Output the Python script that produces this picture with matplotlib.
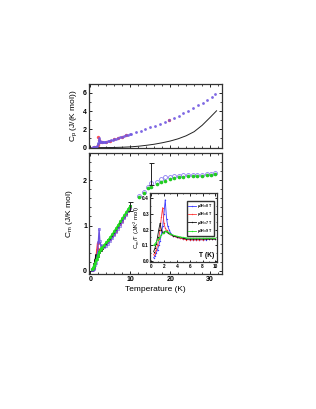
import matplotlib
matplotlib.use("Agg")
import matplotlib.pyplot as plt
from matplotlib.ticker import MultipleLocator

plt.rcParams['font.family'] = ['Liberation Sans', 'DejaVu Sans']
plt.rcParams['font.weight'] = 'bold'
plt.rcParams['axes.linewidth'] = 0.9
plt.rcParams['mathtext.default'] = 'regular'

## DATA ##

# top panel: total Cp
T_cp = [0.3, 0.5, 0.7, 0.9, 1.1, 1.3, 1.5, 1.7, 1.9, 2.0, 2.1, 2.2, 2.3, 2.4, 2.5, 2.7, 2.9,
        3.1, 3.4, 3.7, 4.0, 4.4, 4.8, 5.2, 5.6, 6.0, 6.5, 7.0, 7.5, 8.0, 8.5, 9.0, 9.5, 10.0,
        10.3, 11.5, 12.7, 13.8, 15.0, 16.2, 17.4, 18.6, 19.8, 21.0, 22.1, 23.3, 24.5, 25.7,
        26.9, 28.1, 29.2, 30.4, 31.2]
CP = [0.01, 0.01, 0.02, 0.03, 0.05, 0.08, 0.12, 0.2, 0.35, 0.5, 0.75, 1.0, 0.8, 0.68, 0.62,
      0.6, 0.6, 0.6, 0.61, 0.63, 0.66, 0.7, 0.75, 0.8, 0.85, 0.9, 0.97, 1.04, 1.11, 1.18,
      1.26, 1.33, 1.41, 1.48, 1.5, 1.68, 1.86, 2.04, 2.22, 2.4, 2.6, 2.8, 3.0, 3.25, 3.5,
      3.75, 4.02, 4.32, 4.63, 4.95, 5.27, 5.6, 5.93]
T_cp_red = [0.5, 1.0, 1.5, 1.8, 2.0, 2.2, 2.5, 3.0, 4.0, 5.0, 6.0, 7.0, 8.0, 9.0, 19.8]
CP_red = [0.01, 0.04, 0.12, 0.3, 1.2, 0.8, 0.62, 0.6, 0.66, 0.75, 0.9, 1.04, 1.18, 1.33, 3.02]

# lattice contribution (black line)
T_lat = [0, 2, 4, 6, 8, 10, 12, 14, 16, 18, 20, 22, 24, 26, 28, 30, 31.6]
C_lat = [0, 0.001, 0.005, 0.015, 0.04, 0.08, 0.15, 0.25, 0.37, 0.53, 0.72, 0.97, 1.3,
         1.75, 2.45, 3.32, 4.04]

# bottom panel: magnetic Cm
T_lo = [0.4, 0.6, 0.8, 1.0, 1.2, 1.4, 1.6, 1.8, 2.0, 2.2, 2.4, 2.6, 2.8, 3.0, 3.4, 4.0,
        4.5, 5.0, 5.5, 6.0, 6.5, 7.0, 7.5, 8.0, 8.5, 9.0, 9.5, 10.0]
CM_0T = [0.01, 0.02, 0.04, 0.07, 0.12, 0.18, 0.27, 0.4, 0.63, 0.93, 0.65, 0.58, 0.55, 0.53,
         0.52, 0.55, 0.6, 0.66, 0.72, 0.79, 0.86, 0.93, 1.0, 1.08, 1.16, 1.24, 1.31, 1.38]
CM_6T = [0.015, 0.03, 0.06, 0.1, 0.17, 0.28, 0.45, 0.61, 0.48, 0.46, 0.47, 0.48, 0.49, 0.51,
         0.55, 0.6, 0.65, 0.71, 0.76, 0.82, 0.89, 0.96, 1.03, 1.1, 1.18, 1.26, 1.33, 1.4]
CM_7T = [0.02, 0.05, 0.09, 0.15, 0.24, 0.34, 0.32, 0.33, 0.37, 0.42, 0.45, 0.47, 0.49, 0.51,
         0.55, 0.62, 0.67, 0.73, 0.79, 0.86, 0.93, 1.0, 1.07, 1.14, 1.21, 1.28, 1.35, 1.43]
CM_9T = [0.04, 0.07, 0.1, 0.14, 0.18, 0.23, 0.27, 0.32, 0.36, 0.41, 0.45, 0.48, 0.5, 0.52,
         0.57, 0.63, 0.69, 0.75, 0.81, 0.88, 0.95, 1.02, 1.09, 1.16, 1.23, 1.3, 1.37, 1.44]

T_hi = [12.2, 13.4, 14.5, 15.3, 16.6, 17.7, 18.8, 19.9, 21.0, 22.2, 23.3, 24.5, 25.6,
        26.8, 27.9, 29.1, 30.2, 31.3]
CM_hi_0T = [1.64, 1.74, 1.85, 1.93, 1.97, 2.02, 2.06, 2.08, 2.1, 2.1, 2.11, 2.12, 2.12,
            2.12, 2.12, 2.13, 2.14, 2.15]
CM_hi_9T = [1.62, 1.72, 1.82, 1.86, 1.91, 1.95, 1.99, 2.03, 2.05, 2.07, 2.08, 2.09, 2.1,
            2.1, 2.1, 2.11, 2.12, 2.13]

# error bars
T_err = [10.0, 15.2]
CM_err = [1.42, 1.9]
ERR_up = [0.1, 0.47]

# inset: Cm/T
CT_0T = [0.02, 0.03, 0.05, 0.07, 0.1, 0.13, 0.17, 0.22, 0.3, 0.39, 0.27, 0.22, 0.2, 0.18,
         0.16, 0.15, 0.145, 0.14, 0.14, 0.135, 0.135, 0.135, 0.135, 0.135, 0.135, 0.14, 0.14, 0.14]
CT_6T = [0.04, 0.05, 0.07, 0.1, 0.14, 0.2, 0.28, 0.34, 0.24, 0.21, 0.195, 0.185, 0.175, 0.17,
         0.16, 0.15, 0.145, 0.14, 0.135, 0.135, 0.135, 0.135, 0.135, 0.135, 0.14, 0.14, 0.14, 0.14]
CT_7T = [0.06, 0.08, 0.11, 0.15, 0.2, 0.24, 0.2, 0.18, 0.185, 0.19, 0.185, 0.18, 0.175, 0.17,
         0.16, 0.155, 0.15, 0.145, 0.14, 0.14, 0.14, 0.14, 0.14, 0.14, 0.14, 0.14, 0.14, 0.14]
CT_9T = [0.1, 0.11, 0.12, 0.135, 0.145, 0.155, 0.165, 0.175, 0.18, 0.19, 0.188, 0.183, 0.178,
         0.173, 0.165, 0.158, 0.153, 0.15, 0.147, 0.145, 0.145, 0.145, 0.145, 0.145, 0.145,
         0.145, 0.145, 0.145]

LABELS = ['$\\mu_0$H=0 T', '$\\mu_0$H=6 T', '$\\mu_0$H=7 T', '$\\mu_0$H=9 T']
COLORS = ['#3a3aff', '#ff3a3a', '#111111', '#22e022']

## FIGURE ##

fig = plt.figure(figsize=(3.16, 4.09), dpi=100)
ax1 = fig.add_axes([0.282, 0.638, 0.421, 0.157])
ax2 = fig.add_axes([0.282, 0.330, 0.421, 0.296])
axi = fig.add_axes([0.476, 0.359, 0.212, 0.168])


def style(ax, fs=5):
    ax.tick_params(which='both', direction='in', top=True, right=True, labelsize=fs, pad=1.5)
    ax.tick_params(which='major', length=2.5, width=0.6)
    ax.tick_params(which='minor', length=1.3, width=0.5)
    for s in ax.spines.values():
        s.set_color('#333333')


# top panel
ax1.plot(T_lat, C_lat, color='#222222', lw=0.7)
ax1.plot(T_cp_red, CP_red, 'o', color='#ff5050', ms=2.4, mew=0)
ax1.plot(T_cp, CP, 'o', color='#7058e0', ms=2.0, mew=0, alpha=0.9)
ax1.set_xlim(-0.3, 33)
ax1.set_ylim(-0.05, 7)
ax1.xaxis.set_major_locator(MultipleLocator(10))
ax1.xaxis.set_minor_locator(MultipleLocator(2))
ax1.yaxis.set_major_locator(MultipleLocator(2))
ax1.yaxis.set_minor_locator(MultipleLocator(1))
ax1.set_xticklabels([])
ax1.set_ylabel('C$_p$ (J/(K mol))', fontsize=6, labelpad=3)
style(ax1)

# bottom panel
for cm, c in zip([CM_6T, CM_7T, CM_0T, CM_9T], [COLORS[1], COLORS[2], '#6a50e0', COLORS[3]]):
    ax2.plot(T_lo, cm, '-', color=c, lw=0.9, marker='o', ms=1.8, mew=0.4,
             mfc='none' if c == '#6a50e0' else c)
ax2.plot(T_hi, CM_hi_0T, 'o', mfc='none', mec='#8a7af0', ms=2.8, mew=0.6)
ax2.plot(T_hi, CM_hi_9T, 'o', color='#22cc22', ms=2.6, mew=0)
ax2.errorbar(T_err, CM_err, yerr=[[0.1, 0], ERR_up], fmt='none', ecolor='#222222',
             elinewidth=0.7, capsize=1.8, capthick=0.7)
ax2.set_xlim(-0.3, 33)
ax2.set_ylim(-0.07, 2.6)
ax2.xaxis.set_major_locator(MultipleLocator(10))
ax2.xaxis.set_minor_locator(MultipleLocator(2))
ax2.yaxis.set_major_locator(MultipleLocator(1))
ax2.yaxis.set_minor_locator(MultipleLocator(0.2))
ax2.set_xlabel('Temperature (K)', fontsize=6, labelpad=2)
ax2.set_ylabel('C$_m$ (J/K mol)', fontsize=6, labelpad=6)
style(ax2)

# inset
axi.patch.set_alpha(1.0)
for ct, c, lab in zip([CT_0T, CT_6T, CT_7T, CT_9T], COLORS, LABELS):
    axi.plot(T_lo, ct, '-', color=c, lw=0.6, marker='o', ms=1.0, mew=0, label=lab)
axi.set_xlim(-0.1, 10.3)
axi.set_ylim(-0.008, 0.43)
axi.xaxis.set_major_locator(MultipleLocator(2))
axi.xaxis.set_minor_locator(MultipleLocator(1))
axi.yaxis.set_major_locator(MultipleLocator(0.1))
axi.yaxis.set_minor_locator(MultipleLocator(0.05))
axi.set_ylabel('C$_m$/T (J/K$^2$ mol)', fontsize=4.3, labelpad=0.5)
axi.text(0.95, 0.05, 'T (K)', transform=axi.transAxes, fontsize=4.8, ha='right', va='bottom')
style(axi, fs=3.4)
axi.tick_params(which='both', pad=1)
axi.tick_params(which='major', length=1.8)
axi.tick_params(which='minor', length=1.0)
axi.legend(loc='upper right', fontsize=2.6, frameon=True, fancybox=False, edgecolor='#333333',
           handlelength=2.2, handletextpad=0.3, borderpad=0.3, labelspacing=0.1,
           bbox_to_anchor=(0.97, 0.92), framealpha=1)

fig.savefig('out.png', dpi=100)
